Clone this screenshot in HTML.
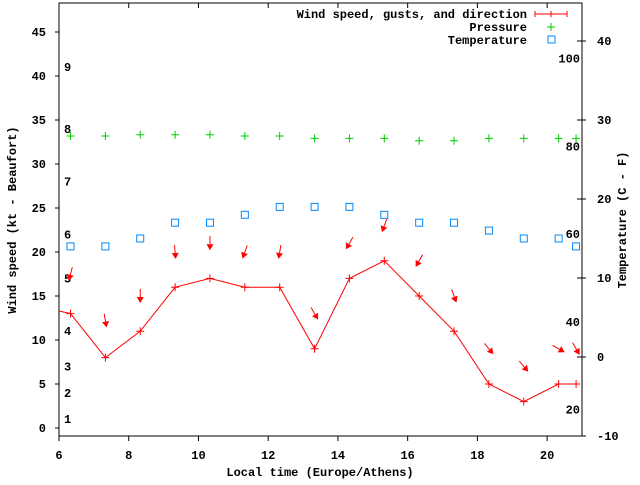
<!DOCTYPE html>
<html><head><meta charset="utf-8"><style>
body{margin:0;background:#fff}
svg text{font-family:"Liberation Mono",monospace;font-weight:bold;font-size:12px;fill:#000}
</style></head><body>
<svg width="640" height="480" xmlns="http://www.w3.org/2000/svg">
<g id="g"></g>
</svg>
<script>
const times=[6.33,7.33,8.33,9.33,10.33,11.33,12.33,13.33,14.33,15.33,16.33,17.33,18.33,19.33,20.33,20.83];
const windSpeed=[13,8,11,16,17,16,16,9,17,19,15,11,5,3,5,5];
const gusts=[17.5,12.2,15,20,21,20,20,13,21,23,19,15,9,7,9,9];
const windDir=[15,350,0,355,0,20,10,330,30,20,30,340,320,320,300,330];
const pressure=[1016,1016,1016.1,1016.1,1016.1,1016,1016,1015.8,1015.8,1015.8,1015.6,1015.6,1015.8,1015.8,1015.8,1015.8];
const temperature=[14,14,15,17,17,18,19,19,19,18,17,17,16,15,15,14];
const xTicks=[6,8,10,12,14,16,18,20];
const yTicks=[0,5,10,15,20,25,30,35,40,45];
const tTicks=[-10,0,10,20,30,40];
const fTicks=[20,40,60,80,100];
const beaufort=[1,4,7,11,17,22,28,34,41];

const L=59,R=582,T=3,B=436;
const X=t=>L+(t-6)*(R-L)/15;
const Y=v=>428-8.8*v;
const TY=c=>357-7.9*c;
const PY=p=>136-(p-1016)*12;
const g=document.getElementById('g');
const NS='http://www.w3.org/2000/svg';
function mk(tag,attrs,txt){const e=document.createElementNS(NS,tag);for(const k in attrs)e.setAttribute(k,attrs[k]);if(txt!==undefined)e.textContent=txt;g.appendChild(e);return e;}

let e=mk('rect',{x:L,y:T,width:R-L,height:B-T,fill:'none',stroke:'#000'});



xTicks.forEach(t=>{
  const x=X(t);
  mk('line',{x1:x,y1:B,x2:x,y2:B+5,stroke:'#000'});
  mk('line',{x1:x,y1:T,x2:x,y2:T+5,stroke:'#000'});
  e=mk('text',{x:x,y:B+23,'text-anchor':'middle'},String(t));
  
  
});
yTicks.forEach(v=>{
  const y=Y(v);
  mk('line',{x1:L-4,y1:y,x2:L,y2:y,stroke:'#000'});
  e=mk('text',{x:46,y:y+4,'text-anchor':'end'},String(v));
  
  
});
tTicks.forEach(c=>{
  const y=TY(c);
  mk('line',{x1:R-5,y1:y,x2:R+4,y2:y,stroke:'#000'});
  e=mk('text',{x:597,y:y+4},String(c));
  
  
});
fTicks.forEach(f=>{
  const y=TY((f-32)*5/9);
  e=mk('text',{x:580,y:y+4,'text-anchor':'end'},String(f));
  
  
});
beaufort.forEach((k,i)=>{
  e=mk('text',{x:64,y:Y(k)+4},String(i+1));
  
  
});

// wind line
let pts=[[L,Y(13.3)]].concat(times.map((t,i)=>[X(t),Y(windSpeed[i])]));
e=mk('polyline',{points:pts.map(p=>p.join(',')).join(' '),fill:'none',stroke:'#f00'});


times.forEach((t,i)=>{
  const x=X(t),y=Y(windSpeed[i]);
  e=mk('path',{d:`M${x-4},${y}H${x+4}M${x},${y-4}V${y+4}`,stroke:'#f00'});
  
  
  // arrow
  const a=windDir[i]*Math.PI/180,dx=-Math.sin(a),dy=Math.cos(a);
  const cx=x,cy=Y(gusts[i]);
  const tx=cx-dx*7,ty=cy-dy*7,hx=cx+dx*7,hy=cy+dy*7;
  const bx=hx-dx*6,by=hy-dy*6,px=-dy,py=dx;
  e=mk('line',{x1:tx,y1:ty,x2:bx,y2:by,stroke:'#f00'});
  
  
  e=mk('polygon',{points:`${hx},${hy} ${bx+px*3.5},${by+py*3.5} ${bx-px*3.5},${by-py*3.5}`,fill:'#f00'});
  
  
});
pressure.forEach((p,i)=>{
  const x=X(times[i]),y=PY(p);
  e=mk('path',{d:`M${x-4},${y}H${x+4}M${x},${y-4}V${y+4}`,stroke:'#0c0'});
  
  
});
temperature.forEach((c,i)=>{
  const x=X(times[i]),y=TY(c);
  e=mk('rect',{x:x-3.5,y:y-3.5,width:7,height:7,fill:'none',stroke:'#08f'});
  
  
});

// legend
[['Wind speed, gusts, and direction',18],['Pressure',31],['Temperature',44]].forEach(([s,y])=>{
  e=mk('text',{x:527,y:y},s,);
  e.setAttribute('text-anchor','end');
  
  
});
mk('path',{d:'M535,14H567M535,11V17M567,11V17M551,11V17',stroke:'#f00'});
mk('path',{d:'M547,27H555M551,23V31',stroke:'#0c0'});
mk('rect',{x:548,y:36,width:7,height:7,fill:'none',stroke:'#08f'});

e=mk('text',{x:320,y:476,'text-anchor':'middle'},'Local time (Europe/Athens)');


e=mk('text',{x:16,y:220,'text-anchor':'middle',transform:'rotate(-90 16 220)'},'Wind speed (kt - Beaufort)');


e=mk('text',{x:626,y:220,'text-anchor':'middle',transform:'rotate(-90 626 220)'},'Temperature (C - F)');


</script>
</body></html>
